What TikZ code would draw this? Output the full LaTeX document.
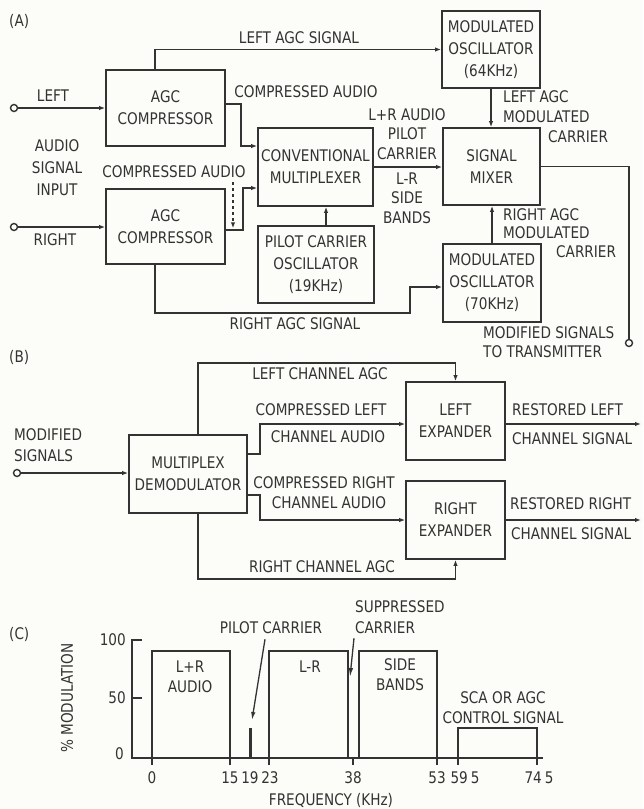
\documentclass[tikz,border=0pt]{standalone}
\usepackage{fontspec}
\setmainfont{DejaVu Sans}[FakeStretch=0.85]
\usetikzlibrary{arrows.meta,calc}
\definecolor{ink}{HTML}{333333}
\definecolor{paper}{HTML}{FCFCF8}
\begin{document}
\begin{tikzpicture}[x=1pt,y=-1pt,
  every node/.style={font=\fontsize{16}{22}\selectfont, inner sep=0pt, text=ink},
  box/.style={draw=ink, line width=1.8pt, align=center},
  ln/.style={draw=ink, line width=1.8pt},
  arr/.style={ln, -{Latex[length=6pt,width=4.5pt]}},
  port/.style={circle, draw=ink, fill=paper, line width=1.4pt, minimum size=7pt},
  lbl/.style={align=center, font=\fontsize{16}{20}\selectfont},
]
\fill[paper] (0,0) rectangle (643,809);
\useasboundingbox (0,0) rectangle (643,809);

% ================= (A) =================
\node[anchor=west] (tA) at (9,21) {(A)};
\node[box, minimum width=119pt, minimum height=76pt] (agcL) at (165.5,108) {AGC\\COMPRESSOR};
\node[box, minimum width=119pt, minimum height=75pt] (agcR) at (165.5,226.5) {AGC\\COMPRESSOR};
\node[box, minimum width=115pt, minimum height=78pt] (mux) at (315.5,167) {CONVENTIONAL\\MULTIPLEXER};
\node[box, minimum width=116pt, minimum height=77pt] (pilot) at (316,264.5) {PILOT CARRIER\\OSCILLATOR\\(19KHz)};
\node[box, minimum width=98pt, minimum height=77pt] (osc64) at (491,49.5) {MODULATED\\OSCILLATOR\\(64KHz)};
\node[box, minimum width=97pt, minimum height=77pt] (mixer) at (491.5,166.5) {SIGNAL\\MIXER};
\node[box, minimum width=98pt, minimum height=78pt] (osc70) at (492,283) {MODULATED\\OSCILLATOR\\(70KHz)};

\node[port] (inL) at (14,108) {};
\node[port] (inR) at (14,227) {};
\node[port] (outA) at (629,343) {};

\node (lL) at (53,96) {LEFT};
\node (lR) at (55,240) {RIGHT};
\node[align=center] (lAud) at (57,168) {AUDIO\\SIGNAL\\INPUT};
\node (lLagc) at (299,38) {LEFT AGC SIGNAL};
\node (ca1) at (306,92) {COMPRESSED AUDIO};
\node (ca2) at (174,172) {COMPRESSED AUDIO};
\node[lbl, font=\fontsize{16}{19.5}\selectfont] (lpr) at (407,134) {L+R AUDIO\\PILOT\\CARRIER};
\node[lbl, font=\fontsize{16}{19.5}\selectfont] (lmr) at (407,198) {L-R\\SIDE\\BANDS};
\node[lbl, align=left, anchor=west] (lagcm) at (503,117) {LEFT AGC\\MODULATED\\\hspace*{45pt}CARRIER};
\node[lbl, align=left, anchor=west, font=\fontsize{16}{18.5}\selectfont] (ragcm) at (503,233) {RIGHT AGC\\MODULATED\\\hspace*{53pt}CARRIER};
\node[lbl, align=left, anchor=west, font=\fontsize{16}{19}\selectfont] (lmod) at (483,342) {MODIFIED SIGNALS\\TO TRANSMITTER};
\node (lRagc) at (295,324) {RIGHT AGC SIGNAL};

\coordinate (dashx) at (233,0);
\coordinate (px) at (326,0);
\coordinate (rjog) at (410,313);

\draw[arr] (inL) -- (agcL.west);
\draw[arr] (inR) -- (agcR.west |- inR);
\draw[arr] ([xshift=-10.5pt]agcL.north) |- (osc64.west);
\draw[arr] ([yshift=4pt]agcL.east) -- ++(15,0) |- ([yshift=21pt]mux.west);
\draw[arr] ([yshift=-3.5pt]agcR.east) -- ++(17,0) |- ([yshift=-21pt]mux.west);
\draw[arr, dashed, line width=1.1pt] (ca2.south -| dashx) ++(0,4) -- ++(0,46);
\draw[arr] (pilot.north -| px) -- (mux.south -| px);
\draw[arr] (mux.east) -- (mixer.west |- mux.east);
\draw[arr] (osc64.south) -- (osc64.south |- mixer.north);
\draw[arr] (osc70.north) -- (osc70.north |- mixer.south);
\draw[ln] (mixer.east) -| (outA.north);
\draw[arr] ([xshift=-10.5pt]agcR.south) |- (rjog) |- ([yshift=-4pt]osc70.west);

% ================= (B) =================
\node[anchor=west] (tB) at (9,357) {(B)};
\node[box, minimum width=118pt, minimum height=78pt] (demod) at (188,474) {MULTIPLEX\\DEMODULATOR};
\node[box, minimum width=99pt, minimum height=78pt] (lexp) at (455.5,421) {LEFT\\EXPANDER};
\node[box, minimum width=99pt, minimum height=78pt] (rexp) at (455.5,520) {RIGHT\\EXPANDER};
\node[port] (inB) at (17,473) {};
\node[lbl, align=left, anchor=west, font=\fontsize{16}{21}\selectfont] (lms) at (14,445.5) {MODIFIED\\SIGNALS};
\node (llca) at (320,374) {LEFT CHANNEL AGC};
\node (lcl1) at (321,410) {COMPRESSED LEFT};
\node (lcl2) at (328,437) {CHANNEL AUDIO};
\node (lcr1) at (324,483) {COMPRESSED RIGHT};
\node (lcr2) at (329,503) {CHANNEL AUDIO};
\node (lrca) at (322,567) {RIGHT CHANNEL AGC};
\node[anchor=west] (lrl1) at (512,410) {RESTORED LEFT};
\node[anchor=west] (lrl2) at (512,439) {CHANNEL SIGNAL};
\node[anchor=west] (lrr1) at (510,504) {RESTORED RIGHT};
\node[anchor=west] (lrr2) at (511,534) {CHANNEL SIGNAL};

\coordinate (lagcY) at (0,363);
\coordinate (ragcY) at (0,579);
\coordinate (outL) at (641,424);
\coordinate (outR) at (641,520);

\draw[arr] (inB) -- (demod.west |- inB);
\draw[arr] ([xshift=10pt]demod.north) |- (lagcY -| lexp.north) -- (lexp.north);
\draw[arr] ([xshift=10pt]demod.south) |- (ragcY -| rexp.south) -- (rexp.south);
\draw[arr] ([yshift=20pt]demod.east) -- ++(12,0) |- ([yshift=-3pt]lexp.west);
\draw[arr] ([yshift=-21pt]demod.east) -- ++(12,0) |- (rexp.west);
\draw[arr] ([yshift=-3pt]lexp.east) -- (outL);
\draw[arr] (rexp.east) -- (outR);

% ================= (C) =================
\node[anchor=west] (tC) at (9,634) {(C)};
\node[anchor=east] (y100) at (126,640) {100};
\node[anchor=east] (y50) at (126,698) {50};
\node[anchor=east] (y0) at (124,754) {0};
\node[rotate=90] (ylab) at (67,698) {\% MODULATION};
\draw[ln] (142,640) -- (132,640) -- (132,758) -- (543,758);
\draw[ln] (132,698) -- (142,698);
\draw[ln] (152,758) -- (152,651) -- (230,651) -- (230,758);
\draw[ln] (269,758) -- (269,651) -- (348,651) -- (348,758);
\draw[ln] (359,758) -- (359,651) -- (437,651) -- (437,758);
\draw[ln] (458,758) -- (458,728) -- (537,728) -- (537,758);
\draw[ink, line width=3pt] (250,728) -- (250,758);
\foreach \t in {152,230,269,353,437,458,537} \draw[ln] (\t,758) -- (\t,765);
\foreach \t/\s in {152/0,230/15,250/19,270/23,353/38,437/53}
  \node at (\t,778) {\s};
\node (t595) at (465,778) {59\hspace{3pt}5};
\node (t745) at (539,778) {74\hspace{3pt}5};
\node (fq) at (331,800) {FREQUENCY (KHz)};
\node[lbl] (blr) at (190,677) {L+R\\AUDIO};
\node (blmr) at (310,667) {L-R};
\node[lbl] (bsb) at (400,675) {SIDE\\BANDS};
\node[lbl] (bsca) at (503,708) {SCA OR AGC\\CONTROL SIGNAL};
\node (pcl) at (271,628) {PILOT CARRIER};
\node[lbl, align=left, anchor=west, font=\fontsize{16}{21}\selectfont] (sup) at (355,617.5) {SUPPRESSED\\CARRIER};
\coordinate (pcTip) at (252,720);
\coordinate (supTip) at (350,677);
\draw[ln, line width=1.3pt, -{Latex[length=8pt,width=4.5pt]}] (pcl.south) ++(-6,5) -- (pcTip);
\draw[ln, line width=1.3pt, -{Latex[length=9pt,width=4.5pt]}] (sup.south west) ++(-1,4) -- (supTip);
\end{tikzpicture}
\end{document}
